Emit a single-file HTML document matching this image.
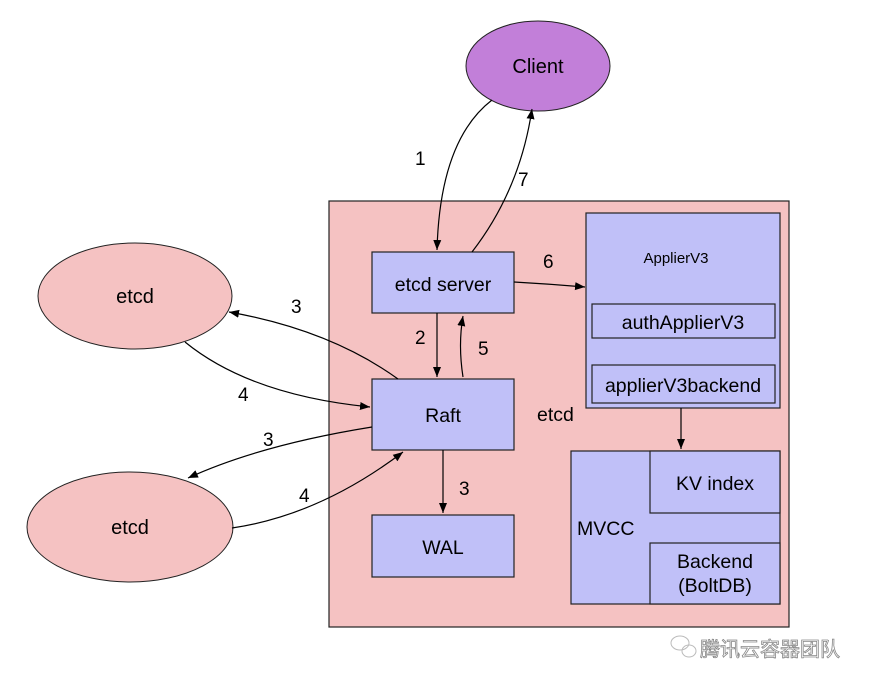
<!DOCTYPE html>
<html><head><meta charset="utf-8"><style>
html,body{margin:0;padding:0;background:#fff;}
svg{display:block;}
text{font-family:"Liberation Sans","Noto Sans CJK SC",sans-serif;fill:#000;}
</style></head><body>
<svg width="884" height="689" viewBox="0 0 884 689" xmlns="http://www.w3.org/2000/svg">
<defs>
<marker id="a" viewBox="0 0 10 10" refX="10" refY="5" markerWidth="10" markerHeight="10" markerUnits="userSpaceOnUse" orient="auto">
<path d="M0,1 L10,5 L0,9 Z" fill="#000"/>
</marker>
</defs>
<rect x="329" y="201" width="460" height="426" fill="#f5c2c2" stroke="#222" stroke-width="1.2"/>
<ellipse cx="538" cy="66" rx="72" ry="45" fill="#c27fd9" stroke="#222" stroke-width="1"/>
<text x="538" y="73" font-size="20" text-anchor="middle">Client</text>
<ellipse cx="135" cy="296" rx="97" ry="53" fill="#f5c2c2" stroke="#222" stroke-width="1"/>
<text x="135" y="303" font-size="20" text-anchor="middle">etcd</text>
<ellipse cx="130" cy="527" rx="103" ry="55" fill="#f5c2c2" stroke="#222" stroke-width="1"/>
<text x="130" y="534" font-size="20" text-anchor="middle">etcd</text>

<g fill="#c0c0f8" stroke="#222" stroke-width="1.2">
<rect x="372" y="252" width="142" height="61"/>
<rect x="372" y="379" width="142" height="71"/>
<rect x="372" y="515" width="142" height="62"/>
<rect x="586" y="213" width="194" height="195"/>
<rect x="592" y="304" width="183" height="34"/>
<rect x="592" y="365" width="183" height="38"/>
<rect x="571" y="451" width="209" height="153"/>
<rect x="650" y="451" width="130" height="62"/>
<rect x="650" y="543" width="130" height="61"/>
</g>
<text x="443" y="291" font-size="19.5" text-anchor="middle">etcd server</text>
<text x="443" y="422" font-size="19.5" text-anchor="middle">Raft</text>
<text x="443" y="554" font-size="19.5" text-anchor="middle">WAL</text>
<text x="676" y="263" font-size="15" text-anchor="middle">ApplierV3</text>
<text x="683" y="329" font-size="19.5" text-anchor="middle">authApplierV3</text>
<text x="683" y="392" font-size="19.5" text-anchor="middle">applierV3backend</text>
<text x="715" y="490" font-size="19.5" text-anchor="middle">KV index</text>
<text x="715" y="568" font-size="19.5" text-anchor="middle">Backend</text>
<text x="715" y="592" font-size="19.5" text-anchor="middle">(BoltDB)</text>
<text x="577" y="535" font-size="19.5">MVCC</text>
<text x="537" y="421" font-size="19.5">etcd</text>

<g fill="none" stroke="#000" stroke-width="1.2" marker-end="url(#a)">
<path d="M492,100 Q440,140 437,250"/>
<path d="M472,252 Q520,190 532,109"/>
<path d="M514,282 Q550,284 585,287"/>
<path d="M437,313 L437,377"/>
<path d="M463,377 Q458,345 463,316"/>
<path d="M398,379 Q330,330 229,312"/>
<path d="M185,342 Q250,395 370,407"/>
<path d="M372,427 Q260,445 188,478"/>
<path d="M232,528 Q320,515 403,452"/>
<path d="M443,450 L443,513"/>
<path d="M681,408 L681,449"/>
</g>
<g font-size="19">
<text x="415" y="165">1</text>
<text x="518" y="186">7</text>
<text x="543" y="268">6</text>
<text x="415" y="344">2</text>
<text x="478" y="355">5</text>
<text x="291" y="313">3</text>
<text x="238" y="401">4</text>
<text x="263" y="446">3</text>
<text x="299" y="502">4</text>
<text x="459" y="495">3</text>
</g>
<g fill="none" stroke="#bbb" stroke-width="1">
<ellipse cx="680" cy="643" rx="9" ry="7"/>
<ellipse cx="689" cy="651" rx="7" ry="6"/>
</g>
<text x="700" y="656" font-size="20" style="fill:#fff;stroke:#888;stroke-width:0.8">腾讯云容器团队</text>
</svg>
</body></html>
